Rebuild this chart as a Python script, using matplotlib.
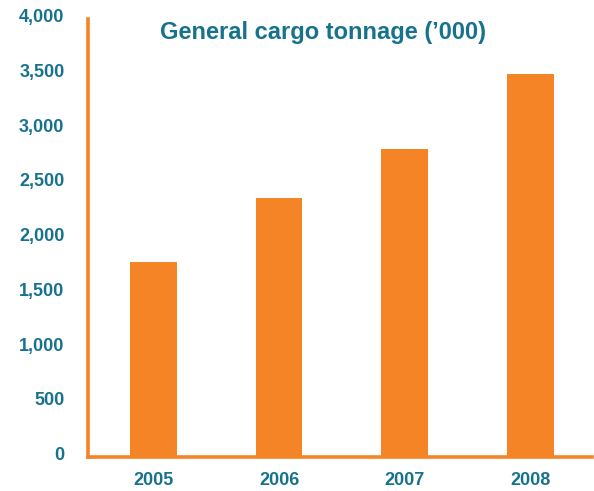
import matplotlib.pyplot as plt
from matplotlib.ticker import FuncFormatter
from matplotlib.transforms import ScaledTranslation

years = ['2005', '2006', '2007', '2008']
tonnage = [1780, 2365, 2810, 3500]

orange = '#F58426'
teal = '#17728E'

plt.rcParams['font.family'] = ['Liberation Sans', 'DejaVu Sans']

fig = plt.figure(figsize=(5.94, 4.91), dpi=100)
ax = fig.add_axes([88 / 594, 34 / 491, (592 - 88) / 594, (457 - 19) / 491])

x = range(len(years))
ax.bar(x, tonnage, width=0.37, color=orange, zorder=2)

ax.set_xlim(-0.52, 3.49)
ax.set_ylim(0, 4000)
ax.set_xticks(list(x))
ax.set_xticklabels(years)
ax.set_yticks(range(0, 4001, 500))
ax.yaxis.set_major_formatter(FuncFormatter(lambda v, p: f'{int(v):,}'))

for side in ['top', 'right']:
    ax.spines[side].set_visible(False)
for side in ['left', 'bottom']:
    ax.spines[side].set_color(orange)
    ax.spines[side].set_linewidth(2.6)

ax.tick_params(axis='both', length=0, colors=teal, labelsize=13)
ax.tick_params(axis='y', pad=17)
ax.tick_params(axis='x', pad=11)
for lab in ax.get_xticklabels() + ax.get_yticklabels():
    lab.set_fontweight('bold')
# labels sit a few pixels above their gridline in the original
shift = ScaledTranslation(0, 3.5 / 100, fig.dpi_scale_trans)
for lab in ax.get_yticklabels():
    lab.set_va('center_baseline')
    lab.set_transform(lab.get_transform() + shift)

fig.text(323 / 594, 1 - 33 / 491, 'General cargo tonnage (\u2019000)', color=teal,
         fontsize=17, fontweight='bold', ha='center', va='center')

fig.savefig('out.png', dpi=100)
